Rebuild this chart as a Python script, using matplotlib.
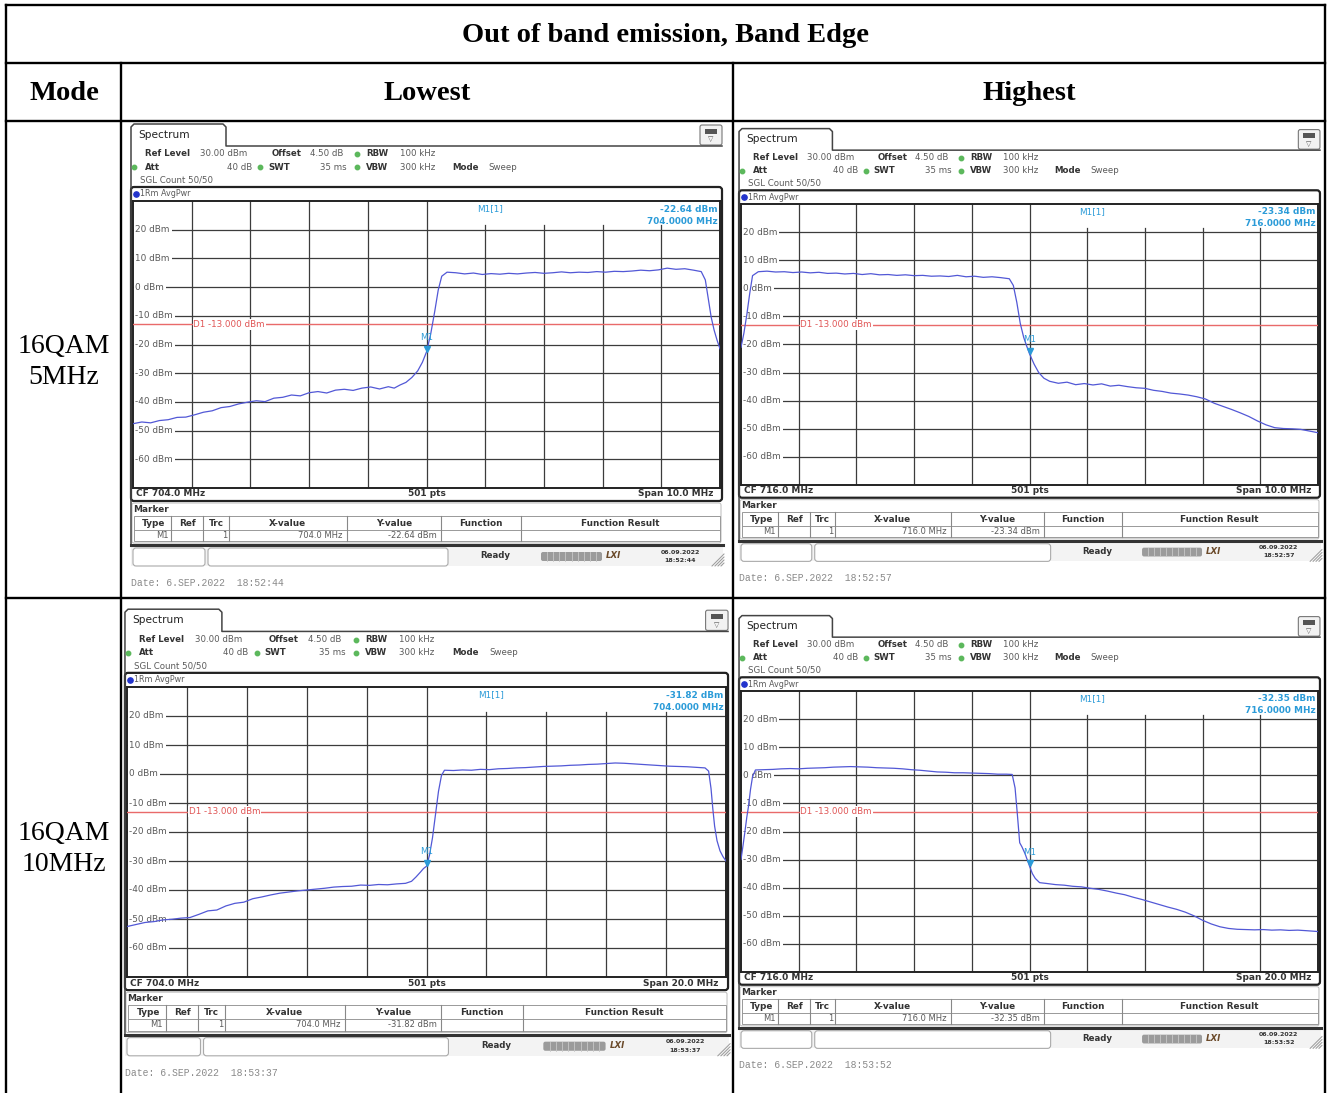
import matplotlib
matplotlib.use('Agg')
import matplotlib.pyplot as plt
from matplotlib.patches import Rectangle, FancyBboxPatch
import matplotlib.transforms as mtransforms

W_PX, H_PX = 1327, 1093

# table texts
title = 'Out of band emission, Band Edge'
col_heads = ['Mode', 'Lowest', 'Highest']
modes = ['16QAM\n5MHz', '16QAM\n10MHz']

# analyser settings per screen: TL, TR, BL, BR
centers = [704.0, 716.0, 704.0, 716.0]
spans = [10.0, 10.0, 20.0, 20.0]
m1_levels = [-22.64, -23.34, -31.82, -32.35]
clock = ['18:52:44', '18:52:57', '18:53:37', '18:53:52']
limit_dbm = -13.0
ref_level = 30.0
y_ticks = [20, 10, 0, -10, -20, -30, -40, -50, -60]

# traces (MHz, dBm)
f_tl = [699.0, 699.15, 699.3, 699.45, 699.6, 699.75, 699.9, 700.05, 700.2, 700.35,
        700.5, 700.65, 700.8, 700.95, 701.1, 701.25, 701.4, 701.55, 701.7, 701.85,
        702.0, 702.15, 702.3, 702.45, 702.6, 702.75, 702.9, 703.05, 703.2, 703.35,
        703.45, 703.55, 703.65, 703.75, 703.85, 703.93, 704.0, 704.07, 704.14, 704.2,
        704.26, 704.35, 704.5, 704.65, 704.8, 704.95, 705.1, 705.25, 705.4, 705.55,
        705.7, 705.85, 706.0, 706.15, 706.3, 706.45, 706.6, 706.75, 706.9, 707.05,
        707.2, 707.35, 707.5, 707.65, 707.8, 707.95, 708.1, 708.25, 708.4, 708.55,
        708.68, 708.75, 708.8, 708.85, 708.9, 708.95, 709.0]
p_tl = [-47.6, -47.0, -47.3, -46.5, -46.2, -45.4, -45.3, -44.5, -43.6, -43.1,
        -42.0, -41.6, -40.7, -40.1, -39.6, -39.9, -38.7, -38.4, -37.6, -37.9,
        -36.8, -36.4, -36.9, -35.9, -35.6, -36.0, -35.2, -34.8, -35.5, -34.7,
        -35.2, -34.1, -33.2, -31.5, -29.2, -26.2, -22.6, -16.5, -8.5, -1.0,
        3.8, 5.2, 5.0, 4.6, 4.9, 4.4, 4.7, 4.5, 4.8, 4.6,
        4.9, 5.1, 4.8, 5.0, 5.3, 5.0, 5.2, 5.1, 5.4, 5.2,
        5.5, 5.4, 5.6, 5.9, 5.7, 6.0, 6.6, 6.2, 6.4, 5.9,
        5.4, 2.5, -4.0, -10.5, -15.0, -18.5, -21.5]

f_tr = [711.0, 711.05, 711.1, 711.15, 711.2, 711.3, 711.45, 711.6, 711.75, 711.9,
        712.05, 712.2, 712.35, 712.5, 712.65, 712.8, 712.95, 713.1, 713.25, 713.4,
        713.55, 713.7, 713.85, 714.0, 714.15, 714.3, 714.45, 714.6, 714.75, 714.9,
        715.05, 715.2, 715.35, 715.5, 715.65, 715.72, 715.78, 715.84, 715.9, 715.95,
        716.0, 716.08, 716.16, 716.25, 716.35, 716.5, 716.65, 716.8, 716.95, 717.1,
        717.25, 717.4, 717.55, 717.7, 717.85, 718.0, 718.15, 718.3, 718.45, 718.6,
        718.75, 718.9, 719.05, 719.2, 719.35, 719.5, 719.65, 719.8, 719.95, 720.1,
        720.25, 720.4, 720.55, 720.7, 720.85, 721.0]
p_tr = [-21.0, -16.0, -9.5, -2.0, 4.5, 5.9, 6.1, 5.8, 5.9, 5.6,
        5.8, 5.5, 5.7, 5.3, 5.4, 5.1, 5.3, 4.9, 5.2, 4.8,
        4.9, 4.6, 4.8, 4.5, 4.6, 4.3, 4.4, 4.2, 4.6, 4.1,
        4.3, 3.9, 4.1, 3.8, 3.4, 1.0, -5.0, -12.5, -17.5, -20.5,
        -23.3, -27.0, -30.0, -32.0, -33.1, -33.8, -33.4, -34.3, -33.9, -34.4,
        -34.0, -34.8, -34.5, -35.0, -35.4, -35.6, -36.3, -36.7, -37.3, -37.6,
        -38.0, -38.6, -39.4, -40.9, -42.0, -43.1, -44.3, -45.6, -47.2, -48.6,
        -49.6, -49.9, -50.0, -50.2, -50.8, -51.4]

f_bl = [694.0, 694.3, 694.6, 694.9, 695.2, 695.5, 695.8, 696.1, 696.4, 696.7,
        697.0, 697.3, 697.6, 697.9, 698.2, 698.5, 698.8, 699.1, 699.4, 699.7,
        700.0, 700.3, 700.6, 700.9, 701.2, 701.5, 701.8, 702.1, 702.4, 702.7,
        703.0, 703.3, 703.5, 703.65, 703.8, 703.9, 704.0, 704.1, 704.2, 704.3,
        704.4, 704.5, 704.6, 704.9, 705.2, 705.5, 705.8, 706.1, 706.4, 706.7,
        707.0, 707.3, 707.6, 707.9, 708.2, 708.5, 708.8, 709.1, 709.4, 709.7,
        710.0, 710.3, 710.6, 710.9, 711.2, 711.5, 711.8, 712.1, 712.4, 712.7,
        713.0, 713.3, 713.42, 713.5, 713.56, 713.62, 713.7, 713.8, 713.9, 714.0]
p_bl = [-52.6, -51.9, -51.2, -50.9, -50.3, -50.1, -49.7, -49.5, -48.4, -47.2,
        -46.9, -45.5, -44.6, -44.2, -43.0, -42.4, -41.7, -41.1, -40.7, -40.3,
        -40.0, -39.7, -39.4, -39.0, -38.8, -38.7, -38.3, -38.4, -38.1, -38.2,
        -37.9, -37.7, -37.0, -35.5, -33.8, -32.6, -31.8, -28.0, -22.0, -14.0,
        -6.0, -0.5, 1.3, 1.2, 1.4, 1.3, 1.6, 1.5, 1.8, 1.9,
        2.1, 2.2, 2.4, 2.6, 2.7, 2.8, 3.0, 3.1, 3.3, 3.4,
        3.6, 3.8, 3.7, 3.5, 3.3, 3.1, 2.9, 2.7, 2.6, 2.5,
        2.3, 2.1, 1.0, -5.0, -12.0, -18.0, -23.0, -26.5, -28.5, -30.0]

f_br = [706.0, 706.07, 706.13, 706.2, 706.26, 706.33, 706.4, 706.5, 706.8, 707.1,
        707.4, 707.7, 708.0, 708.3, 708.6, 708.9, 709.2, 709.5, 709.8, 710.1,
        710.4, 710.7, 711.0, 711.3, 711.6, 711.9, 712.2, 712.5, 712.8, 713.1,
        713.4, 713.7, 714.0, 714.3, 714.6, 714.9, 715.2, 715.4, 715.5, 715.58,
        715.66, 715.74, 715.85, 716.0, 716.1, 716.2, 716.35, 716.6, 716.9, 717.2,
        717.5, 717.8, 718.1, 718.4, 718.7, 719.0, 719.3, 719.6, 719.9, 720.2,
        720.5, 720.8, 721.1, 721.4, 721.7, 722.0, 722.3, 722.6, 722.9, 723.2,
        723.5, 723.8, 724.1, 724.4, 724.7, 725.0, 725.3, 725.6, 726.0]
p_br = [-30.0, -25.0, -20.5, -15.0, -11.0, -5.0, -0.5, 1.9, 2.0, 2.1,
        2.3, 2.4, 2.3, 2.5, 2.6, 2.7, 2.9, 3.0, 3.1, 3.0,
        2.9, 2.7, 2.6, 2.5, 2.3, 2.0, 1.8, 1.5, 1.2, 1.1,
        0.9, 0.9, 0.8, 0.7, 0.6, 0.4, 0.4, 0.3, -4.5, -14.0,
        -24.0, -25.5, -28.0, -32.3, -35.0, -36.7, -38.2, -38.5, -38.9, -39.1,
        -39.5, -39.7, -40.2, -40.6, -41.2, -41.9, -42.5, -43.4, -44.2, -45.1,
        -46.0, -46.9, -47.7, -48.7, -50.0, -51.6, -52.9, -53.9, -54.5, -54.8,
        -54.9, -55.0, -54.9, -55.1, -55.0, -55.2, -55.1, -55.3, -55.6]

traces = [(f_tl, p_tl), (f_tr, p_tr), (f_bl, p_bl), (f_br, p_br)]

# grid area of each screen in pixels: left, top, width, height
geoms = [(133, 201, 587, 287), (741, 204, 577, 281),
         (127, 687, 599, 290), (741, 691, 577, 281)]

TRACE = '#5258d6'
MARK = '#2b9bd8'
LIMIT = '#e96a6a'
GRIDC = '#3c3c3c'
TXT = '#333333'
VAL = '#5a5a5a'
SANS = 'DejaVu Sans'

fig = plt.figure(figsize=(W_PX / 100, H_PX / 100), dpi=100)
bg = fig.add_axes([0, 0, 1, 1])
bg.set_xlim(0, W_PX)
bg.set_ylim(H_PX, 0)
bg.axis('off')

# ---- table ----
def hline(y, x0, x1):
    bg.plot([x0, x1], [y, y], color='black', lw=1.7, solid_capstyle='projecting')

def vline(x, y0, y1):
    bg.plot([x, x], [y0, y1], color='black', lw=1.7, solid_capstyle='projecting')

for y in [5, 63, 121, 598]:
    hline(y, 6, 1325)
vline(6, 5, 1093)
vline(1325, 5, 1093)
vline(121, 63, 1093)
vline(733, 63, 1093)

serif = 'Liberation Serif'
bg.text(665, 36, title, ha='center', va='center', fontsize=20.5,
        fontweight='bold', family=serif)
for x, s in zip([64, 427, 1029], col_heads):
    bg.text(x, 94, s, ha='center', va='center', fontsize=20.5,
            fontweight='bold', family=serif)
for y, s in zip([362, 849], modes):
    bg.text(64, y, s, ha='center', va='center', fontsize=20, family=serif,
            linespacing=1.33)


# ---- one analyser screen ----
def screen(i):
    L, T, W, H = geoms[i]
    sx, sy = W / 587.0, H / 287.0
    fx = lambda x: L + (x - 133) * sx
    fy = lambda y: T + (y - 201) * sy

    def t(x, y, s, ha='left', size=6.2, bold=False, color=TXT, **kw):
        bg.text(fx(x), fy(y), s, ha=ha, va='center', fontsize=size,
                fontweight='bold' if bold else 'normal', color=color,
                family=kw.pop('family', SANS), **kw)

    def ln(xs, ys, **kw):
        bg.plot([fx(x) for x in xs], [fy(y) for y in ys], **kw)

    def rbox(x0, y0, x1, y1, r=2, **kw):
        bg.add_patch(FancyBboxPatch((fx(x0), fy(y0)), fx(x1) - fx(x0), fy(y1) - fy(y0),
                                    boxstyle='round,pad=0,rounding_size=%g' % r, **kw))

    cf, span = centers[i], spans[i]

    # window outline with tab
    ln([131, 131, 134, 223, 226, 226, 722], [545, 127, 124, 124, 127, 146, 146],
       color='#444444', lw=1.1)
    t(138, 135, 'Spectrum', size=7.6, color='#222222')
    rbox(700, 125, 722, 145, r=2, fc='#f2f2f2', ec='#777777', lw=0.8)
    bg.add_patch(Rectangle((fx(705), fy(128.5)), 12 * sx, 5 * sy, fc='#555555', ec='none'))
    t(711, 139.5, '\u25bd', ha='center', size=5, color='#555555')

    # settings lines
    dot = dict(marker='o', ms=3.2, color='#5cb85c', ls='none')
    t(145, 154, 'Ref Level', bold=True)
    t(200, 154, '30.00 dBm', color=VAL)
    t(272, 154, 'Offset', bold=True)
    t(310, 154, '4.50 dB', color=VAL)
    ln([357], [154], **dot)
    t(366, 154, 'RBW', bold=True)
    t(400, 154, '100 kHz', color=VAL)
    ln([134], [167], **dot)
    t(145, 167, 'Att', bold=True)
    t(252, 167, '40 dB', ha='right', color=VAL)
    ln([260], [167], **dot)
    t(268, 167, 'SWT', bold=True)
    t(347, 167, '35 ms', ha='right', color=VAL)
    ln([357], [167], **dot)
    t(366, 167, 'VBW', bold=True)
    t(400, 167, '300 kHz', color=VAL)
    t(452, 167, 'Mode', bold=True)
    t(488, 167, 'Sweep', color=VAL)
    t(140, 180, 'SGL Count 50/50', color=VAL)

    # diagram box
    rbox(131, 187, 722, 501, r=3, fc='none', ec='#222222', lw=1.6)
    ln([136], [194], marker='o', ms=3.8, color='#2233cc', ls='none')
    t(140, 194, '1Rm AvgPwr', size=5.8, color=VAL)
    t(136, 494, 'CF %.1f MHz' % cf, bold=True, size=6.5)
    t(427, 494, '501 pts', ha='center', bold=True, size=6.5)
    t(713, 494, 'Span %.1f MHz' % span, ha='right', bold=True, size=6.5)

    # marker table
    rbox(132, 503, 721, 543, r=2, fc='none', ec='#bbbbbb', lw=0.7)
    t(133, 509, 'Marker', bold=True, size=6.4)
    bg.add_patch(Rectangle((fx(134), fy(516)), fx(720) - fx(134), fy(541) - fy(516),
                           fc='none', ec='#999999', lw=0.7))
    ln([134, 720], [529.5, 529.5], color='#999999', lw=0.7)
    for cx in [171, 203, 229, 347, 441, 521]:
        ln([cx, cx], [516, 541], color='#888888', lw=0.8)
    for cx, s in zip([154, 187, 216, 287, 394, 481, 620],
                     ['Type', 'Ref', 'Trc', 'X-value', 'Y-value', 'Function', 'Function Result']):
        t(cx, 523, s, ha='center', bold=True, size=6.4)
    t(162, 535.5, 'M1', ha='center', size=6, color=VAL)
    t(227, 535.5, '1', ha='right', size=6, color=VAL)
    t(342, 535.5, '%.1f MHz' % cf, ha='right', size=6, color=VAL)
    t(437, 535.5, '%.2f dBm' % m1_levels[i], ha='right', size=6, color=VAL)
    ln([131, 723], [545, 545], color='#333333', lw=2.2)

    # status bar
    bg.add_patch(Rectangle((fx(131), fy(546)), fx(723) - fx(131), 20 * sy,
                           fc='#f3f3f3', ec='none', zorder=0))
    rbox(133, 548, 205, 566, r=3, fc='white', ec='#aaaaaa', lw=0.8)
    rbox(208, 548, 448, 566, r=3, fc='white', ec='#aaaaaa', lw=0.8)
    t(495, 556, 'Ready', ha='center', bold=True, size=6.2)
    rbox(541, 552, 602, 561, r=2, fc='#9b9b9b', ec='none')
    for k in range(1, 10):
        ln([541 + 6.1 * k] * 2, [552, 561], color='#c8c8c8', lw=0.6)
    t(614, 556, 'LXI', ha='center', bold=True, size=6.2, color='#6b4a2a', style='italic')
    t(680, 552, '06.09.2022', ha='center', bold=True, size=4.5)
    t(680, 560.5, clock[i], ha='center', bold=True, size=4.5)
    for k in range(4):
        ln([712 + 3 * k, 724], [566, 554 + 3 * k], color='#999999', lw=0.7)

    t(131, 583, 'Date: 6.SEP.2022  ' + clock[i], size=7.0, color='#8a8a8a',
      family='Liberation Mono')

    # ---- the diagram itself ----
    ax = fig.add_axes([L / W_PX, 1 - (T + H) / H_PX, W / W_PX, H / H_PX])
    f0, f1 = cf - span / 2, cf + span / 2
    ax.set_xlim(f0, f1)
    ax.set_ylim(ref_level - 100, ref_level)
    ax.set_xticks([])
    ax.set_yticks([])
    for sp in ax.spines.values():
        sp.set_color('#222222')
        sp.set_linewidth(1.4)
    for k in range(1, 10):
        top = 1.0 if k <= 5 else 0.915
        ax.axvline(f0 + span * k / 10, ymax=top, color=GRIDC, lw=0.9, zorder=1)
    trans = mtransforms.blended_transform_factory(ax.transAxes, ax.transData)
    for lv in y_ticks:
        ax.axhline(lv, color=GRIDC, lw=0.9, zorder=1)
        ax.text(0.004, lv, '%d dBm' % lv, transform=trans, ha='left', va='center',
                fontsize=6.4, color=VAL, family=SANS, zorder=2,
                bbox=dict(fc='white', ec='none', pad=1.2))
    ax.axhline(limit_dbm, color=LIMIT, lw=1.0, zorder=3)
    ax.text(f0 + span * 0.103, limit_dbm, 'D1 -13.000 dBm', ha='left', va='center',
            fontsize=6.3, color='#e05555', family=SANS, zorder=4,
            bbox=dict(fc='white', ec='none', pad=0.6))
    f, p = traces[i]
    ax.plot(f, p, color=TRACE, lw=0.9, zorder=5)
    m1 = m1_levels[i]
    ax.plot([cf], [m1 + 1.2], marker='v', ms=5, color=MARK, zorder=6)
    ax.text(cf, m1 + 5, 'M1', ha='center', va='center', fontsize=6.2, color=MARK,
            family=SANS, zorder=6)
    ax.text(0.608, 0.972, 'M1[1]', transform=ax.transAxes, ha='center', va='center',
            fontsize=6.4, color=MARK, family=SANS)
    ax.text(0.996, 0.972, '%.2f dBm' % m1, transform=ax.transAxes, ha='right',
            va='center', fontsize=6.4, color=MARK, family=SANS, fontweight='bold')
    ax.text(0.996, 0.93, '%.4f MHz' % cf, transform=ax.transAxes, ha='right',
            va='center', fontsize=6.4, color=MARK, family=SANS, fontweight='bold')


for i in range(4):
    screen(i)

fig.savefig('out.png', dpi=100)
